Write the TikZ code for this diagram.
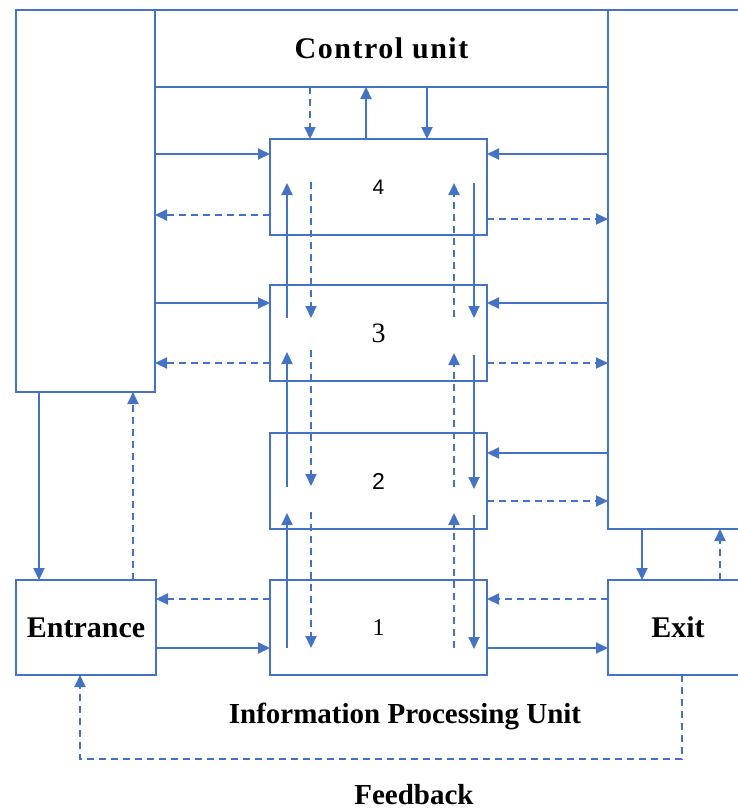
\documentclass[tikz,border=0pt]{standalone}
\usepackage{fontspec}
\setmainfont{Liberation Serif}
\newfontfamily\sansdigits{Liberation Sans}
\usetikzlibrary{arrows.meta}
\definecolor{lineblue}{RGB}{68,114,196}
\begin{document}
\begin{tikzpicture}[x=1pt,y=-1pt,
  unit/.style={draw=lineblue,line width=2.7pt,inner sep=0pt,outer sep=0pt,anchor=north west,align=center},
  flow/.style={draw=lineblue,line width=2.1pt,-{Triangle[length=12pt,width=11pt]}},
  back/.style={flow,dash pattern=on 7pt off 5pt},
  lbl/.style={font=\fontsize{30}{36}\selectfont\bfseries},
  num/.style={font=\fontsize{24}{28}\selectfont}]
\useasboundingbox (0,0) rectangle (738,809);
\clip (0,0) rectangle (738,809);
% units
\node[unit,minimum width=139pt,minimum height=382pt] (lft) at (16,10) {};
\node[unit,minimum width=453pt,minimum height=77pt,lbl] (ctl) at (155,10) {\addfontfeatures{LetterSpace=5}Control unit};
\node[unit,minimum width=139pt,minimum height=519pt] (rgt) at (608,10) {};
\node[unit,minimum width=217pt,minimum height=96pt,font=\fontsize{21}{24}\selectfont\sansdigits] (b4) at (270,139) {4};
\node[unit,minimum width=217pt,minimum height=96pt,font=\fontsize{28}{32}\selectfont] (b3) at (270,285) {3};
\node[unit,minimum width=217pt,minimum height=96pt,font=\fontsize{23}{26}\selectfont\sansdigits] (b2) at (270,433) {2};
\node[unit,minimum width=217pt,minimum height=95pt,num] (b1) at (270,580) {1};
\node[unit,minimum width=140pt,minimum height=95pt,lbl] (ent) at (16,580) {Entrance};
\node[unit,minimum width=140pt,minimum height=95pt,lbl] (ext) at (608,580) {Exit};
\node[lbl,anchor=base,font=\fontsize{29}{34}\selectfont\bfseries] (ipu) at (405,723) {Information Processing Unit};
\node[lbl,anchor=base,font=\fontsize{29}{34}\selectfont\bfseries] (fb) at (414,804) {Feedback};
% control unit <-> unit 4
\draw[back] (ctl.south -| 310,0) -- (b4.north -| 310,0);
\draw[flow] (b4.north -| 366,0) -- (ctl.south -| 366,0);
\draw[flow] (ctl.south -| 427,0) -- (b4.north -| 427,0);
% left column
\draw[flow] (lft.east |- 0,154) -- (b4.west |- 0,154);
\draw[back] (b4.west |- 0,215) -- (lft.east |- 0,215);
\draw[flow] (lft.east |- 0,303) -- (b3.west |- 0,303);
\draw[back] (b3.west |- 0,363) -- (lft.east |- 0,363);
% right column
\draw[flow] (rgt.west |- 0,154) -- (b4.east |- 0,154);
\draw[back] (b4.east |- 0,219) -- (rgt.west |- 0,219);
\draw[flow] (rgt.west |- 0,303) -- (b3.east |- 0,303);
\draw[back] (b3.east |- 0,363) -- (rgt.west |- 0,363);
\draw[flow] (rgt.west |- 0,453) -- (b2.east |- 0,453);
\draw[back] (b2.east |- 0,501) -- (rgt.west |- 0,501);
% left box <-> entrance
\draw[flow] (lft.south -| 39,0) -- (ent.north -| 39,0);
\draw[back] (ent.north -| 133,0) -- (lft.south -| 133,0);
% right box <-> exit
\draw[flow] (rgt.south -| 642,0) -- (ext.north -| 642,0);
\draw[back] (ext.north -| 720,0) -- (rgt.south -| 720,0);
% entrance / exit <-> unit 1
\draw[back] (b1.west |- 0,599) -- (ent.east |- 0,599);
\draw[flow] (ent.east |- 0,648) -- (b1.west |- 0,648);
\draw[back] (ext.west |- 0,599) -- (b1.east |- 0,599);
\draw[flow] (b1.east |- 0,648) -- (ext.west |- 0,648);
% feedback
\coordinate (fbr) at (682,759);
\coordinate (fbl) at (80,759);
\draw[back] (ext.south -| fbr) -- (fbr) -- (fbl) -- (ent.south -| fbl);
% vertical links between units
\draw[flow] (287,318) -- (287,183);
\draw[flow] (287,487) -- (287,352);
\draw[flow] (287,648) -- (287,513);
\draw[back] (311,182) -- (311,318);
\draw[back] (311,350) -- (311,486);
\draw[back] (311,512) -- (311,648);
\draw[back] (454,317) -- (454,183);
\draw[back] (454,487) -- (454,353);
\draw[back] (454,648) -- (454,513);
\draw[flow] (474,183) -- (474,318);
\draw[flow] (474,355) -- (474,489);
\draw[flow] (474,515) -- (474,649);
\end{tikzpicture}
\end{document}
